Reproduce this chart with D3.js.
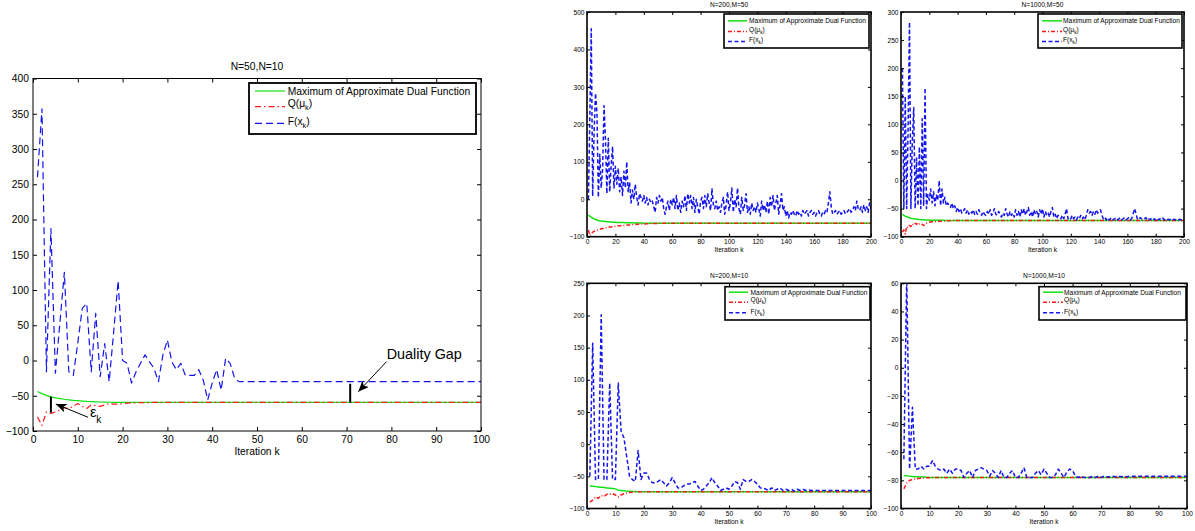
<!DOCTYPE html>
<html><head><meta charset="utf-8">
<script src="https://cdn.jsdelivr.net/npm/d3@7"></script>
<style>body{margin:0;background:#fff;} svg{display:block;}</style>
</head><body><svg id="chart" width="1195" height="531"></svg>
<script>
// ---------------- DATA ----------------
const xTicks100 = [0,10,20,30,40,50,60,70,80,90,100];
const xTicks200 = [0,20,40,60,80,100,120,140,160,180,200];
const mainYTicks = [-100,-50,0,50,100,150,200,250,300,350,400];
const tlYTicks = [-100,0,100,200,300,400,500];
const trYTicks = [-100,-50,0,50,100,150,200,250,300];
const blYTicks = [-100,-50,0,50,100,150,200,250];
const brYTicks = [-100,-80,-60,-40,-20,0,20,40,60];

const legendLabels = [
  {main:"Maximum of Approximate Dual Function"},
  {main:"Q(\u03bc", sub:"k", close:")"},
  {main:"F(x", sub:"k", close:")"}
];
const titles = ["N=50,N=10","N=200,M=50","N=1000,M=50","N=200,M=10","N=1000,M=10"];

// Main chart (N=50,N=10), iterations 1..100
const mainF = [260,357,-16,187,-18,53,125,-16,-21,25,
 74,81,-16,67,-23,24,-30,40,113,0,
 -4,-32,-16,-4,8,-2,-11,-30,8,29,
 -2,-13,-4,-21,-21,-21,-13,-28,-56,-32,
 -13,-42,3,-4,-25,-30,-30,-30,-30,-30,
 -30,-30,-30,-30,-30,-30,-30,-30,-30,-30,-30,-30,-30,-30,-30,-30,-30,-30,-30,-30,
 -30,-30,-30,-30,-30,-30,-30,-30,-30,-30,-30,-30,-30,-30,-30,-30,-30,-30,-30,-30,
 -30,-30,-30,-30,-30,-30,-30,-30,-30,-30];
const mainG = [-44,-47,-49.5,-51.5,-53,-54,-55,-55.8,-56.5,-57,
 -57.5,-58,-58.3,-58.6,-58.9,-59.1,-59.2,-59.3,-59.4,-59.5,
 -59.5,-59.5,-59.5,-59.5,-59.5,-59.5,-59.5,-59.5,-59.5,-59.5,-59.5,-59.5,-59.5,-59.5,-59.5,-59.5,-59.5,-59.5,-59.5,-59.5,
 -59.5,-59.5,-59.5,-59.5,-59.5,-59.5,-59.5,-59.5,-59.5,-59.5,-59.5,-59.5,-59.5,-59.5,-59.5,-59.5,-59.5,-59.5,-59.5,-59.5,
 -59.5,-59.5,-59.5,-59.5,-59.5,-59.5,-59.5,-59.5,-59.5,-59.5,-59.5,-59.5,-59.5,-59.5,-59.5,-59.5,-59.5,-59.5,-59.5,-59.5,
 -59.5,-59.5,-59.5,-59.5,-59.5,-59.5,-59.5,-59.5,-59.5,-59.5,-59.5,-59.5,-59.5,-59.5,-59.5,-59.5,-59.5,-59.5,-59.5,-59.5];
const mainQ = [-80,-92,-73,-75,-73,-70,-67,-68,-65,-61,
 -65,-68,-63,-64,-65,-63,-61,-62,-62,-61,
 -60.5,-60,-60,-59.8,-59.7,-59.6,-59.5,-59.5,-59.5,-59.5,
 -59.5,-59.5,-59.5,-59.5,-59.5,-59.5,-59.5,-59.5,-59.5,-59.5,-59.5,-59.5,-59.5,-59.5,-59.5,-59.5,-59.5,-59.5,-59.5,-59.5,
 -59.5,-59.5,-59.5,-59.5,-59.5,-59.5,-59.5,-59.5,-59.5,-59.5,-59.5,-59.5,-59.5,-59.5,-59.5,-59.5,-59.5,-59.5,-59.5,-59.5,
 -59.5,-59.5,-59.5,-59.5,-59.5,-59.5,-59.5,-59.5,-59.5,-59.5,-59.5,-59.5,-59.5,-59.5,-59.5,-59.5,-59.5,-59.5,-59.5,-59.5,
 -59.5,-59.5,-59.5,-59.5,-59.5,-59.5,-59.5,-59.5,-59.5,-59.5];

// N=200,M=50, iterations 1..200
const tlF = [0,220,455,8,180,283,230,5,120,30,
 80,250,160,15,163,20,90,141,30,88,
 40,83,20,60,10,75,30,100,20,45,
 -10,25,0,40,5,-15,15,5,-5,10,
 -10,5,-15,0,-10,-5,-20,-35,5,-10,
 10,-5,5,-25,-40,-20,-5,-30,0,-15,
 5,-25,10,-30,-10,-35,-5,-20,10,-30,
 15,-10,10,-25,5,-35,0,-20,-40,-5,
 5,-25,10,-20,15,-10,-30,28,-15,-25,
 -5,-30,-20,-35,-10,5,-40,-15,20,-30,
 -10,30,-35,0,-20,30,-25,-40,5,-30,
 -15,15,-35,-20,-40,-10,-30,-20,-35,-10,
 -25,-45,-5,-30,-15,-35,-5,-40,5,-20,
 10,-30,-10,10,-40,-15,15,-30,-20,-45,
 -30,-50,-35,-40,-30,-40,-45,-30,-40,-35,
 -45,-30,-40,-35,-30,-45,-35,-30,-40,-35,
 -45,-35,-30,-40,-45,-35,-40,-30,-35,-10,
 20,-20,-40,-35,-30,-40,-35,-30,-40,-35,
 -30,-40,-35,-30,-25,-35,-30,-20,-30,-5,
 -25,-30,-20,-35,-15,-30,-20,-35,-10,-25];
const tlG = [-42,-45,-48,-50.5,-52.5,-54,-55.5,-56.5,-57.5,-58,
 -58.5,-59,-59.5,-60,-60.3,-60.6,-60.9,-61.2,-61.4,-61.6,
 -61.8,-62,-62.1,-62.2,-62.3,-62.4,-62.5,-62.6,-62.7,-62.8,
 -62.9,-63,-63.1,-63.2,-63.3,-63.4,-63.5,-63.6,-63.7,-63.8,
 -64,-64,-64,-64,-64,-64,-64,-64,-64,-64,-64,-64,-64,-64,-64,-64,-64,-64,-64,-64,
 -64,-64,-64,-64,-64,-64,-64,-64,-64,-64,-64,-64,-64,-64,-64,-64,-64,-64,-64,-64,
 -64,-64,-64,-64,-64,-64,-64,-64,-64,-64,-64,-64,-64,-64,-64,-64,-64,-64,-64,-64,
 -64,-64,-64,-64,-64,-64,-64,-64,-64,-64,-64,-64,-64,-64,-64,-64,-64,-64,-64,-64,
 -64,-64,-64,-64,-64,-64,-64,-64,-64,-64,-64,-64,-64,-64,-64,-64,-64,-64,-64,-64,
 -64,-64,-64,-64,-64,-64,-64,-64,-64,-64,-64,-64,-64,-64,-64,-64,-64,-64,-64,-64,
 -64,-64,-64,-64,-64,-64,-64,-64,-64,-64,-64,-64,-64,-64,-64,-64,-64,-64,-64,-64,
 -64,-64,-64,-64,-64,-64,-64,-64,-64,-64,-64,-64,-64,-64,-64,-64,-64,-64,-64,-64];
const tlQ = [-82,-97,-92,-88,-86,-84,-83,-82,-80,-79,
 -78,-77,-76,-76,-75,-74,-74,-73,-73,-72,
 -72,-71,-71,-70.5,-70,-70,-69.5,-69,-69,-68.5,
 -68,-68,-67.5,-67.5,-67,-67,-66.5,-66.5,-66,-66,
 -66,-65.5,-65.5,-65,-65,-65,-64.5,-64.5,-64.5,-64.5,
 -64,-64,-64,-64,-64,-64,-64,-64,-64,-64,-64,-64,-64,-64,-64,-64,-64,-64,-64,-64,
 -64,-64,-64,-64,-64,-64,-64,-64,-64,-64,-64,-64,-64,-64,-64,-64,-64,-64,-64,-64,
 -64,-64,-64,-64,-64,-64,-64,-64,-64,-64,-64,-64,-64,-64,-64,-64,-64,-64,-64,-64,
 -64,-64,-64,-64,-64,-64,-64,-64,-64,-64,-64,-64,-64,-64,-64,-64,-64,-64,-64,-64,
 -64,-64,-64,-64,-64,-64,-64,-64,-64,-64,-64,-64,-64,-64,-64,-64,-64,-64,-64,-64,
 -64,-64,-64,-64,-64,-64,-64,-64,-64,-64,-64,-64,-64,-64,-64,-64,-64,-64,-64,-64,
 -64,-64,-64,-64,-64,-64,-64,-64,-64,-64,-64,-64,-64,-64,-64,-64,-64,-64,-64,-64,
 -64,-64,-64,-64,-64,-64,-64,-64,-64,-64];

// N=1000,M=50, iterations 1..200
const trF = [200,-50,150,-50,90,282,-50,70,130,-50,
 40,-45,60,-50,110,-45,165,-50,-25,-35,
 -15,-40,-20,-45,-25,-35,0,-45,-15,-40,
 -30,-45,-40,-45,-48,-40,-50,-45,-55,-48,
 -55,-50,-58,-55,-50,-58,-52,-60,-55,-58,
 -52,-60,-55,-60,-52,-58,-62,-55,-60,-62,
 -55,-60,-52,-62,-58,-50,-60,-62,-55,-60,
 -65,-58,-62,-50,-60,-65,-55,-62,-58,-65,
 -52,-62,-55,-65,-52,-60,-50,-62,-55,-48,
 -62,-55,-65,-52,-60,-55,-65,-52,-60,-50,
 -65,-55,-62,-58,-65,-55,-48,-65,-60,-68,
 -62,-65,-68,-62,-68,-60,-50,-68,-65,-68,
 -62,-68,-65,-70,-65,-68,-62,-68,-65,-70,
 -62,-52,-58,-55,-62,-55,-60,-52,-58,-55,
 -52,-62,-68,-65,-70,-66,-70,-68,-66,-70,
 -68,-66,-70,-68,-66,-70,-68,-66,-70,-68,
 -66,-70,-68,-60,-50,-58,-68,-70,-66,-68,
 -70,-68,-66,-70,-68,-70,-67,-70,-68,-70,
 -67,-70,-68,-70,-67,-70,-68,-70,-69,-70,
 -68,-70,-69,-70,-68,-70,-69,-70,-69,-70];
const trG = [-60,-62,-63.5,-64.5,-65.5,-66.3,-67,-67.5,-68,-68.4,
 -68.8,-69.1,-69.4,-69.6,-69.8,-70,-70.1,-70.2,-70.3,-70.4,
 -70.5,-70.5,-70.6,-70.6,-70.7,-70.7,-70.8,-70.8,-70.8,-70.9,
 -71,-71,-71,-71,-71,-71,-71,-71,-71,-71,-71,-71,-71,-71,-71,-71,-71,-71,-71,-71,
 -71,-71,-71,-71,-71,-71,-71,-71,-71,-71,-71,-71,-71,-71,-71,-71,-71,-71,-71,-71,
 -71,-71,-71,-71,-71,-71,-71,-71,-71,-71,-71,-71,-71,-71,-71,-71,-71,-71,-71,-71,
 -71,-71,-71,-71,-71,-71,-71,-71,-71,-71,-71,-71,-71,-71,-71,-71,-71,-71,-71,-71,
 -71,-71,-71,-71,-71,-71,-71,-71,-71,-71,-71,-71,-71,-71,-71,-71,-71,-71,-71,-71,
 -71,-71,-71,-71,-71,-71,-71,-71,-71,-71,-71,-71,-71,-71,-71,-71,-71,-71,-71,-71,
 -71,-71,-71,-71,-71,-71,-71,-71,-71,-71,-71,-71,-71,-71,-71,-71,-71,-71,-71,-71,
 -71,-71,-71,-71,-71,-71,-71,-71,-71,-71,-71,-71,-71,-71,-71,-71,-71,-71,-71,-71,
 -71,-71,-71,-71,-71,-71,-71,-71,-71,-71];
const trQ = [-92,-88,-95,-82,-84,-80,-82,-77,-79,-76,
 -78,-75,-77,-76,-78,-80,-78,-76,-75,-74,
 -74,-73.5,-73.5,-73,-73,-72.8,-72.6,-72.4,-72.2,-72,
 -72,-71.8,-71.7,-71.6,-71.5,-71.4,-71.3,-71.2,-71.1,-71,
 -71,-71,-71,-71,-71,-71,-71,-71,-71,-71,-71,-71,-71,-71,-71,-71,-71,-71,-71,-71,
 -71,-71,-71,-71,-71,-71,-71,-71,-71,-71,-71,-71,-71,-71,-71,-71,-71,-71,-71,-71,
 -71,-71,-71,-71,-71,-71,-71,-71,-71,-71,-71,-71,-71,-71,-71,-71,-71,-71,-71,-71,
 -71,-71,-71,-71,-71,-71,-71,-71,-71,-71,-71,-71,-71,-71,-71,-71,-71,-71,-71,-71,
 -71,-71,-71,-71,-71,-71,-71,-71,-71,-71,-71,-71,-71,-71,-71,-71,-71,-71,-71,-71,
 -71,-71,-71,-71,-71,-71,-71,-71,-71,-71,-71,-71,-71,-71,-71,-71,-71,-71,-71,-71,
 -71,-71,-71,-71,-71,-71,-71,-71,-71,-71,-71,-71,-71,-71,-71,-71,-71,-71,-71,-71,
 -71,-71,-71,-71,-71,-71,-71,-71,-71,-71,-71,-71,-71,-71,-71,-71,-71,-71,-71,-71];

// N=200,M=10, iterations 1..100
const blF = [-50,157,-55,-55,201,-55,-55,95,-55,-55,
 95,20,10,-20,-50,-55,-58,-10,-55,-45,
 -45,-55,-60,-60,-58,-55,-60,-65,-60,-52,
 -60,-68,-68,-65,-62,-62,-60,-58,-65,-72,
 -70,-65,-60,-52,-60,-65,-72,-70,-68,-70,
 -65,-58,-60,-70,-55,-58,-58,-55,-58,-62,
 -68,-68,-70,-72,-68,-72,-70,-68,-72,-70,
 -72,-70,-73,-70,-72,-70,-72,-71,-72,-72,
 -72,-72,-72,-72,-72,-72,-72,-72,-72,-72,-72,-72,-72,-72,-72,-72,-72,-72,-72,-72];
const blG = [-65,-65.5,-66,-66.5,-67,-67.5,-68,-68.5,-69,-69.5,
 -71.5,-72,-72.5,-73,-73.2,-73.4,-73.6,-73.8,-74,-74,
 -74,-74,-74,-74,-74,-74,-74,-74,-74,-74,-74,-74,-74,-74,-74,-74,-74,-74,-74,-74,
 -74,-74,-74,-74,-74,-74,-74,-74,-74,-74,-74,-74,-74,-74,-74,-74,-74,-74,-74,-74,
 -74,-74,-74,-74,-74,-74,-74,-74,-74,-74,-74,-74,-74,-74,-74,-74,-74,-74,-74,-74,
 -74,-74,-74,-74,-74,-74,-74,-74,-74,-74,-74,-74,-74,-74,-74,-74,-74,-74,-74,-74];
const blQ = [-90,-87,-82,-84,-80,-81,-78,-78,-77,-79,
 -82,-79,-77,-76,-75,-74.5,-74,-74,-74,-74,
 -74,-74,-74,-74,-74,-74,-74,-74,-74,-74,-74,-74,-74,-74,-74,-74,-74,-74,-74,-74,
 -74,-74,-74,-74,-74,-74,-74,-74,-74,-74,-74,-74,-74,-74,-74,-74,-74,-74,-74,-74,
 -74,-74,-74,-74,-74,-74,-74,-74,-74,-74,-74,-74,-74,-74,-74,-74,-74,-74,-74,-74,
 -74,-74,-74,-74,-74,-74,-74,-74,-74,-74,-74,-74,-74,-74,-74,-74,-74,-74,-74,-74];

// N=1000,M=10, iterations 1..100
const brF = [-65,65,-72,-28,-72,-72,-70,-72,-70,-70,
 -66,-70,-72,-73,-72,-75,-72,-75,-72,-72,
 -73,-78,-75,-73,-78,-73,-72,-71,-72,-73,
 -77,-73,-75,-78,-73,-78,-78,-75,-73,-78,
 -78,-75,-71,-78,-78,-78,-75,-73,-76,-72,
 -75,-78,-78,-76,-72,-75,-78,-74,-72,-73,
 -77,-78,-77,-78,-78,-78,-77,-78,-77,-78,
 -77,-77.5,-77.5,-77,-77.5,-77,-77.5,-77,-77.5,-77,
 -77,-77,-77,-77,-77,-77,-77,-77,-77,-77,-77,-77,-77,-77,-77,-77,-77,-77,-77,-77];
const brG = [-76.5,-76.8,-77,-77.2,-77.4,-77.5,-77.6,-77.7,-77.8,-77.9,
 -78,-78,-78,-78,-78,-78,-78,-78,-78,-78,-78,-78,-78,-78,-78,-78,-78,-78,-78,-78,
 -78,-78,-78,-78,-78,-78,-78,-78,-78,-78,-78,-78,-78,-78,-78,-78,-78,-78,-78,-78,
 -78,-78,-78,-78,-78,-78,-78,-78,-78,-78,-78,-78,-78,-78,-78,-78,-78,-78,-78,-78,
 -78,-78,-78,-78,-78,-78,-78,-78,-78,-78,-78,-78,-78,-78,-78,-78,-78,-78,-78,-78,
 -78,-78,-78,-78,-78,-78,-78,-78,-78,-78];
const brQ = [-86,-82,-80,-79.5,-79,-78.7,-78.5,-78.3,-78.2,-78.1,
 -78,-78,-78,-78,-78,-78,-78,-78,-78,-78,-78,-78,-78,-78,-78,-78,-78,-78,-78,-78,
 -78,-78,-78,-78,-78,-78,-78,-78,-78,-78,-78,-78,-78,-78,-78,-78,-78,-78,-78,-78,
 -78,-78,-78,-78,-78,-78,-78,-78,-78,-78,-78,-78,-78,-78,-78,-78,-78,-78,-78,-78,
 -78,-78,-78,-78,-78,-78,-78,-78,-78,-78,-78,-78,-78,-78,-78,-78,-78,-78,-78,-78,
 -78,-78,-78,-78,-78,-78,-78,-78,-78,-78];

// Annotations on main chart (data coordinates: iteration, value)
const gapBars = [{k:70.8, lo:-59.5, hi:-33}, {k:4.0, lo:-74, hi:-51.3}];
const arrowsData = [{k0:78.9, v0:-1.7, k1:72.6, v1:-44.3}, {k0:12.3, v0:-80.6, k1:5.1, v1:-61.7}];
const notes = [{text:"Duality Gap", k:78.95, v:2}, {text:"\u03b5", sub:"k", k:12.7, v:-80}];

// ---------------- DRAW ----------------
const FONT = "'Liberation Sans', Arial, Helvetica, sans-serif";
const C_G = "#12e012", C_Q = "#ff1a1a", C_F = "#1414f0";
const svg = d3.select("#chart").attr("font-family", FONT);
svg.append("rect").attr("width",1195).attr("height",531).attr("fill","#fff");
const defs = svg.append("defs");
defs.append("marker").attr("id","arr").attr("viewBox","0 0 12 10")
  .attr("refX",12).attr("refY",5).attr("markerWidth",12).attr("markerHeight",9)
  .attr("markerUnits","userSpaceOnUse").attr("orient","auto")
  .append("path").attr("d","M0,0 L12,5 L0,10 L3,5 Z").attr("fill","#000");

const panels = [
 {title:titles[0], left:33, top:78.5, width:448, height:352.5, xDomain:[0,100], yDomain:[-100,400],
  xTicks:xTicks100, yTicks:mainYTicks, F:mainF, G:mainG, Q:mainQ,
  fs:10.3, tick:4, padX:5, padY:4, titleOff:9, xlabOff:24, lw:1.2, tw:1, boxW:1,
  dash:"7,4", dashDot:"6,3,1.5,3",
  legend:{x:216, y:4.5, w:227, h:51, bw:1.8, sx:[6,36], tx:38.7, ly:[8,23.7,40.3], ty:[12.3,24,41.5], fs:10.3},
  annot:true},
 {title:titles[1], left:587, top:12, width:284, height:224.7, xDomain:[0,200], yDomain:[-100,500],
  xTicks:xTicks200, yTicks:tlYTicks, F:tlF, G:tlG, Q:tlQ,
  fs:6.6, tick:3, padX:3, padY:2.5, titleOff:5, xlabOff:15, lw:1.5, tw:1, boxW:1.6,
  dash:"4,2.5", dashDot:"4,2,1,2",
  legend:{x:137, y:2, w:145, h:34, bw:1.6, sx:[4,23], tx:25, ly:[6.8,17.5,27.5], ty:[9,17.5,28], fs:6.6}},
 {title:titles[2], left:901, top:12, width:283, height:224.7, xDomain:[0,200], yDomain:[-100,300],
  xTicks:xTicks200, yTicks:trYTicks, F:trF, G:trG, Q:trQ,
  fs:6.6, tick:3, padX:3, padY:2.5, titleOff:5, xlabOff:15, lw:1.5, tw:1, boxW:1.6,
  dash:"4,2.5", dashDot:"4,2,1,2",
  legend:{x:137, y:2, w:144, h:34, bw:1.6, sx:[4,24], tx:25, ly:[6.8,17.5,27.5], ty:[9,17.5,28], fs:6.6}},
 {title:titles[3], left:587, top:283.3, width:284, height:225.2, xDomain:[0,100], yDomain:[-100,250],
  xTicks:xTicks100, yTicks:blYTicks, F:blF, G:blG, Q:blQ,
  fs:6.6, tick:3, padX:3, padY:2.5, titleOff:5, xlabOff:15, lw:1.5, tw:1, boxW:1.6,
  dash:"4,2.5", dashDot:"4,2,1,2",
  legend:{x:138, y:3.4, w:145, h:33.3, bw:1.6, sx:[4,23], tx:25.5, ly:[5.5,15.5,26], ty:[7.8,14.8,26.8], fs:6.6}},
 {title:titles[4], left:901, top:283.3, width:286, height:225.2, xDomain:[0,100], yDomain:[-100,60],
  xTicks:xTicks100, yTicks:brYTicks, F:brF, G:brG, Q:brQ,
  fs:6.6, tick:3, padX:3, padY:2.5, titleOff:5, xlabOff:15, lw:1.5, tw:1, boxW:1.6,
  dash:"4,2.5", dashDot:"4,2,1,2",
  legend:{x:138, y:3.4, w:147, h:33.3, bw:1.6, sx:[4,24], tx:25, ly:[5.5,15.5,26], ty:[7.8,14.8,26.8], fs:6.6}}
];

function drawPanel(p, idx) {
  const x = d3.scaleLinear().domain(p.xDomain).range([p.left, p.left + p.width]);
  const y = d3.scaleLinear().domain(p.yDomain).range([p.top + p.height, p.top]);
  const g = svg.append("g");
  defs.append("clipPath").attr("id", "clip" + idx).append("rect")
    .attr("x", p.left).attr("y", p.top).attr("width", p.width).attr("height", p.height);

  const line = d3.line().x((d, j) => x(j + 1)).y(d => y(d));
  const plot = g.append("g").attr("clip-path", `url(#clip${idx})`);
  const series = [
    {data: p.G, color: C_G, dash: null},
    {data: p.Q, color: C_Q, dash: p.dashDot},
    {data: p.F, color: C_F, dash: p.dash}
  ];
  series.forEach(s => {
    plot.append("path").datum(s.data).attr("d", line).attr("fill", "none")
      .attr("stroke", s.color).attr("stroke-width", p.lw)
      .attr("stroke-dasharray", s.dash).attr("stroke-linejoin", "round");
  });

  const fmt = d3.format("d");
  const styleAxis = a => {
    a.select(".domain").remove();
    a.attr("font-family", FONT).attr("font-size", p.fs);
    a.selectAll("text").attr("fill", "#000").attr("font-size", p.fs);
    a.selectAll("line").attr("stroke", "#000").attr("stroke-width", p.tw);
  };
  g.append("g").attr("transform", `translate(0,${p.top + p.height})`)
    .call(d3.axisBottom(x).tickValues(p.xTicks).tickSizeInner(-p.tick).tickSizeOuter(0).tickPadding(p.padX).tickFormat(fmt))
    .call(styleAxis);
  g.append("g").attr("transform", `translate(0,${p.top})`)
    .call(d3.axisTop(x).tickValues(p.xTicks).tickSizeInner(-p.tick).tickSizeOuter(0).tickFormat(() => ""))
    .call(styleAxis);
  g.append("g").attr("transform", `translate(${p.left},0)`)
    .call(d3.axisLeft(y).tickValues(p.yTicks).tickSizeInner(-p.tick).tickSizeOuter(0).tickPadding(p.padY).tickFormat(fmt))
    .call(styleAxis);
  g.append("g").attr("transform", `translate(${p.left + p.width},0)`)
    .call(d3.axisRight(y).tickValues(p.yTicks).tickSizeInner(-p.tick).tickSizeOuter(0).tickFormat(() => ""))
    .call(styleAxis);
  g.append("rect").attr("x", p.left).attr("y", p.top).attr("width", p.width).attr("height", p.height)
    .attr("fill", "none").attr("stroke", "#000").attr("stroke-width", p.boxW);

  const cx = p.left + p.width / 2;
  g.append("text").attr("x", cx).attr("y", p.top - p.titleOff).attr("text-anchor", "middle")
    .attr("font-size", p.fs).attr("fill", "#000").text(p.title);
  g.append("text").attr("x", cx).attr("y", p.top + p.height + p.xlabOff).attr("text-anchor", "middle")
    .attr("font-size", p.fs).attr("fill", "#000").text("Iteration k");

  // legend
  const L = p.legend;
  const lx = p.left + L.x, ly = p.top + L.y;
  g.append("rect").attr("x", lx).attr("y", ly).attr("width", L.w).attr("height", L.h)
    .attr("fill", "#fff").attr("stroke", "#000").attr("stroke-width", L.bw);
  legendLabels.forEach((e, i) => {
    const s = series[i];
    g.append("line").attr("x1", lx + L.sx[0]).attr("x2", lx + L.sx[1])
      .attr("y1", ly + L.ly[i]).attr("y2", ly + L.ly[i])
      .attr("stroke", s.color).attr("stroke-width", p.lw).attr("stroke-dasharray", s.dash);
    const t = g.append("text").attr("x", lx + L.tx).attr("y", ly + L.ty[i])
      .attr("font-size", L.fs).attr("fill", "#000");
    t.append("tspan").text(e.main);
    if (e.sub) {
      t.append("tspan").attr("dy", L.fs * 0.32).attr("font-size", L.fs * 0.72).text(e.sub);
      t.append("tspan").attr("dy", -L.fs * 0.32).text(e.close);
    }
  });

  if (p.annot) {
    gapBars.forEach(b => {
      g.append("line").attr("x1", x(b.k)).attr("x2", x(b.k)).attr("y1", y(b.lo)).attr("y2", y(b.hi))
        .attr("stroke", "#000").attr("stroke-width", 2);
    });
    arrowsData.forEach(a => {
      g.append("line").attr("x1", x(a.k0)).attr("y1", y(a.v0)).attr("x2", x(a.k1)).attr("y2", y(a.v1))
        .attr("stroke", "#000").attr("stroke-width", 1).attr("marker-end", "url(#arr)");
    });
    notes.forEach(n => {
      const t = g.append("text").attr("x", x(n.k)).attr("y", y(n.v)).attr("font-size", 14.4).attr("fill", "#000");
      t.append("tspan").text(n.text);
      if (n.sub) t.append("tspan").attr("dy", 6).attr("font-size", 10).text(n.sub);
    });
  }
}

panels.forEach(drawPanel);
</script></body></html>
